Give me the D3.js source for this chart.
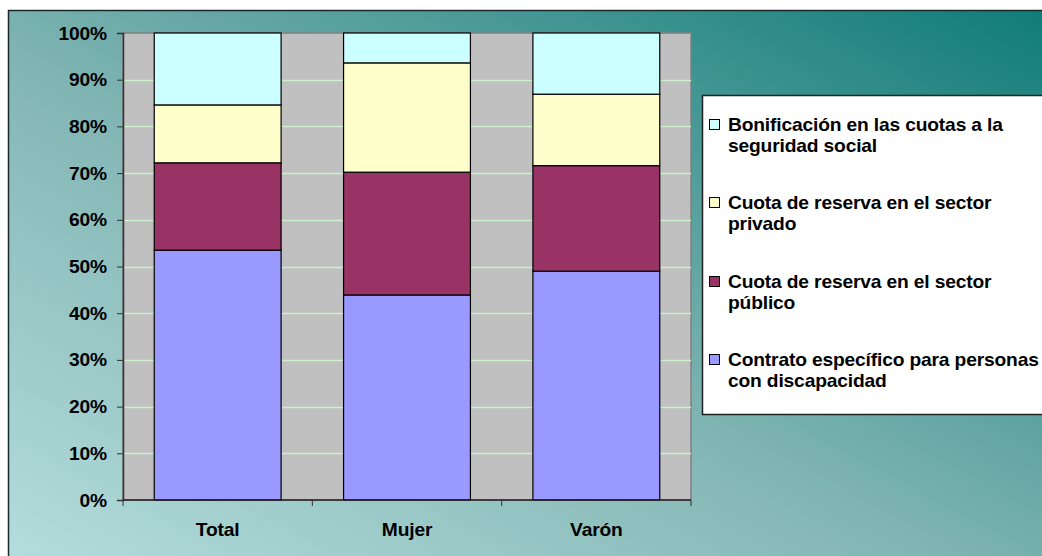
<!DOCTYPE html>
<html><head><meta charset="utf-8">
<script src="https://cdn.jsdelivr.net/npm/d3@7"></script>
<style>
html,body{margin:0;padding:0;background:#fff;overflow:hidden}
svg{display:block}
text{font-family:"Liberation Sans",Arial,sans-serif;font-weight:bold;fill:#000;letter-spacing:-0.15px}
</style></head>
<body>
<script>
const categories = ["Total", "Mujer", "Varón"];
const seriesNames = [
  "Contrato específico para personas con discapacidad",
  "Cuota de reserva en el sector público",
  "Cuota de reserva en el sector privado",
  "Bonificación en las cuotas a la seguridad social"
];
const contrato = [53.5, 43.9, 49.0];
const publico  = [18.7, 26.3, 22.6];
const privado  = [12.4, 23.4, 15.3];
const bonificacion = [15.4, 6.4, 13.1];
const colors = ["#9999ff", "#993366", "#ffffcc", "#ccffff"];
const legendLines = [
  ["Bonificación en las cuotas a la", "seguridad social"],
  ["Cuota de reserva en el sector", "privado"],
  ["Cuota de reserva en el sector", "público"],
  ["Contrato específico para personas", "con discapacidad"]
];
const legendColors = ["#ccffff", "#ffffcc", "#993366", "#9999ff"];
const yTicks = [0,10,20,30,40,50,60,70,80,90,100];

const W = 1042, H = 556;
const FS = 17.8, SX = 1.08;
const svg = d3.select("body").append("svg").attr("width", W).attr("height", H);
const defs = svg.append("defs");
const grad = defs.append("linearGradient").attr("id","bg")
  .attr("x1","0").attr("y1","1").attr("x2","1").attr("y2","0");
grad.append("stop").attr("offset","0%").attr("stop-color","#b6dede");
grad.append("stop").attr("offset","45%").attr("stop-color","#82b6b4");
grad.append("stop").attr("offset","100%").attr("stop-color","#0f7b78");

svg.append("rect").attr("x",8.5).attr("y",10.5).attr("width",W+10).attr("height",H+10)
  .attr("fill","url(#bg)").attr("stroke","#1a2a2a").attr("stroke-width",1.5);

function label(g, x, y, txt, anchor){
  return g.append("text").attr("transform",`translate(${x},${y}) scale(${SX},1)`)
    .attr("text-anchor",anchor||"start").style("font-size",FS+"px").text(txt);
}

const plot = {left:123, right:691, top:33, bottom:500};
const x = d3.scaleBand().domain(categories).range([plot.left, plot.right]).paddingInner(0.33).paddingOuter(0.165);
const xb = d3.scaleBand().domain(categories).range([plot.left, plot.right]);
const y = d3.scaleLinear().domain([0,100]).range([plot.bottom, plot.top]);

svg.append("rect").attr("x",plot.left).attr("y",plot.top)
  .attr("width",plot.right-plot.left).attr("height",plot.bottom-plot.top)
  .attr("fill","#c0c0c0").attr("stroke","#808080").attr("stroke-width",1.5);

svg.append("g").selectAll("line").data(yTicks.filter(d=>d>0 && d<100)).join("line")
  .attr("x1",plot.left).attr("x2",plot.right)
  .attr("y1",d=>Math.round(y(d))+0.5).attr("y2",d=>Math.round(y(d))+0.5)
  .attr("stroke","#ccf0cc").attr("stroke-width",1.5);

const data = categories.map((c,i)=>({cat:c, s0:contrato[i], s1:publico[i], s2:privado[i], s3:bonificacion[i]}));
const stack = d3.stack().keys(["s0","s1","s2","s3"])(data);
svg.append("g").selectAll("g").data(stack).join("g")
  .attr("fill",(d,i)=>colors[i])
  .selectAll("rect").data(d=>d).join("rect")
  .attr("x",d=>x(d.data.cat)).attr("width",x.bandwidth())
  .attr("y",d=>y(d[1])).attr("height",d=>y(d[0])-y(d[1]))
  .attr("stroke","#000").attr("stroke-width",1.2);

// y axis
const yAxis = d3.axisLeft(y).tickValues(yTicks).tickFormat("").tickSize(6);
const gy = svg.append("g").attr("transform",`translate(${plot.left},0)`).call(yAxis);
gy.select(".domain").attr("stroke","#333").attr("stroke-width",1.5);
gy.selectAll(".tick line").attr("stroke","#333");
const gyl = svg.append("g");
yTicks.forEach(v=>label(gyl, 107, y(v)+6.5, v+"%", "end"));

// x axis
const gx = svg.append("g").attr("transform",`translate(0,${plot.bottom})`);
gx.append("line").attr("x1",plot.left).attr("x2",plot.right).attr("y1",0).attr("y2",0).attr("stroke","#222").attr("stroke-width",1.5);
const bounds = categories.map(c=>xb(c)).concat([plot.right]);
gx.selectAll("line.t").data(bounds).join("line").attr("class","t")
  .attr("x1",d=>d).attr("x2",d=>d).attr("y1",0).attr("y2",6).attr("stroke","#333");
categories.forEach(c=>label(gx, xb(c)+xb.bandwidth()/2, 36, c, "middle"));

// legend
const lg = svg.append("g");
lg.append("rect").attr("x",702.5).attr("y",95.5).attr("width",360).attr("height",319)
  .attr("fill","#fff").attr("stroke","#222").attr("stroke-width",1.5);
const ly = [131, 209, 288, 366];
legendLines.forEach((lines,i)=>{
  lg.append("rect").attr("x",709.5).attr("y",ly[i]-11.5).attr("width",10).attr("height",10)
    .attr("fill",legendColors[i]).attr("stroke","#000").attr("stroke-width",1);
  lines.forEach((l,j)=>label(lg, 728, ly[i]+j*21, l, "start"));
});
</script>
</body></html>
